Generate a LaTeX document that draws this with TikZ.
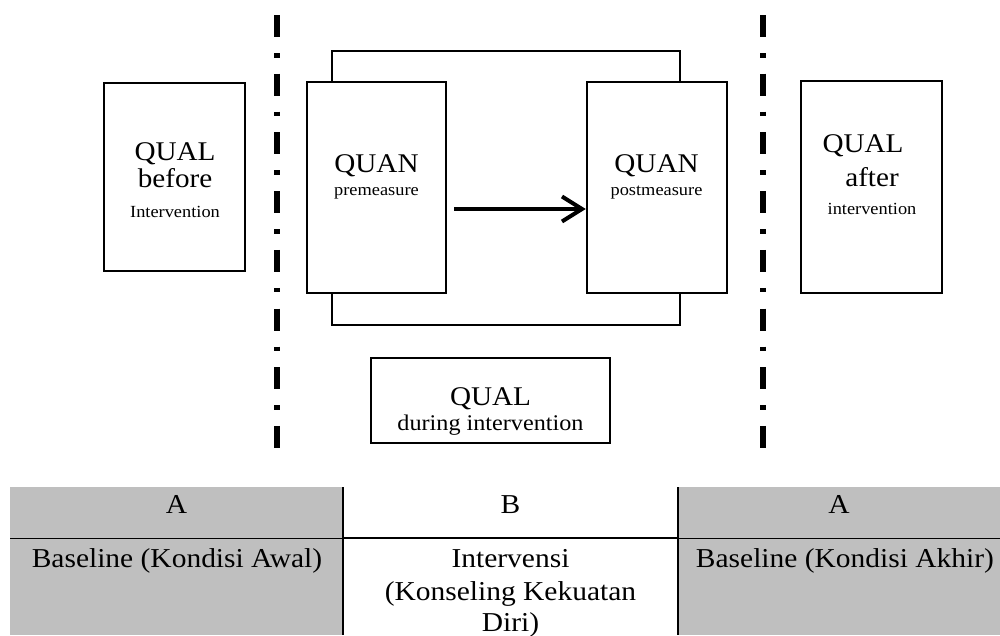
\documentclass[tikz,border=0pt]{standalone}
\usepackage{fontspec}
\setmainfont{Liberation Serif}[FakeStretch=1.08]
\usetikzlibrary{arrows.meta}
\definecolor{tablegray}{HTML}{BFBFBF}
\begin{document}
\begin{tikzpicture}[x=1pt,y=-1pt,
  box/.style={draw, line width=2.5pt, rectangle, inner sep=0pt},
  txt/.style={inner sep=0pt, anchor=base},
  big/.style={font=\fontsize{27}{32}\selectfont},
  small/.style={font=\fontsize{17}{20}\selectfont},
  mid/.style={font=\fontsize{22.4}{26}\selectfont},
  tab/.style={font=\fontsize{27.3}{33}\selectfont},
  dashdotline/.style={line width=5.5pt, dash pattern=on 22pt off 16pt on 4.5pt off 16.2pt},
  bracketline/.style={line width=2.5pt},
  flowarrow/.style={line width=4pt, -{Straight Barb[length=20pt,width=25pt]}},
  gridline/.style={line width=2pt},
  thinline/.style={line width=1pt}
]
\useasboundingbox (0,0) rectangle (1000,635);

% dash-dot separators
\draw[dashdotline] (277,15) -- (277,448);
\draw[dashdotline] (763,15) -- (763,448);

% boxes
\node[box, minimum width=141pt, minimum height=188pt] (before) at (174.5,177) {};
\node[box, minimum width=139pt, minimum height=211pt] (pre) at (376.5,187.5) {};
\node[box, minimum width=140pt, minimum height=211pt] (post) at (657,187.5) {};
\node[box, minimum width=141pt, minimum height=212pt] (after) at (871.5,187) {};
\node[box, minimum width=239pt, minimum height=85pt] (during) at (490.5,400.5) {};

% bracket connecting pre and post
\coordinate (bTL) at (332,51);
\coordinate (bTR) at (680,51);
\coordinate (bBL) at (332,325);
\coordinate (bBR) at (680,325);
\draw[bracketline] (bTL |- pre.north) -- (bTL) -- (bTR) -- (bTR |- post.north);
\draw[bracketline] (bBL |- pre.south) -- (bBL) -- (bBR) -- (bBR |- post.south);

% arrow
\draw[flowarrow, shorten <=7pt] (pre.east |- 0,209) -- (post.west |- 0,209);

% texts in boxes
\node[txt, big] (t1a) at (175,160) {QUAL};
\node[txt, big] (t1b) at (175,187) {before};
\node[txt, small] (t1c) at (175,217) {Intervention};

\node[txt, big] (t2a) at (376.5,172) {QUAN};
\node[txt, small] (t2b) at (376.5,195) {premeasure};

\node[txt, big] (t3a) at (656.5,172) {QUAN};
\node[txt, small] (t3b) at (656.5,195) {postmeasure};

\node[txt, big] (t4a) at (863,152) {QUAL};
\node[txt, big] (t4b) at (872,186) {after};
\node[txt, small] (t4c) at (872,214) {intervention};

\node[txt, big] (t5a) at (490.5,405) {QUAL};
\node[txt, mid] (t5b) at (490.5,430) {during intervention};

% table
\fill[tablegray] (10,487) rectangle (343,635);
\fill[tablegray] (678,487) rectangle (1000,635);
\draw[thinline] (10,538) -- (343,538);
\draw[gridline] (343,538) -- (678,538);
\draw[thinline] (678,538) -- (1000,538);
\draw[gridline] (343,487) -- (343,635);
\draw[gridline] (678,487) -- (678,635);

\node[txt, tab] (h1) at (176.5,513) {A};
\node[txt, tab] (h2) at (510.5,513) {B};
\node[txt, tab] (h3) at (839,513) {A};
\node[txt, tab] (c1) at (177,567) {Baseline (Kondisi Awal)};
\node[txt, tab] (c2a) at (510.5,567) {Intervensi};
\node[txt, tab] (c2b) at (510.5,600) {(Konseling Kekuatan};
\node[txt, tab] (c2c) at (510.5,631) {Diri)};
\node[txt, tab] (c3) at (845,567) {Baseline (Kondisi Akhir)};
\end{tikzpicture}
\end{document}
